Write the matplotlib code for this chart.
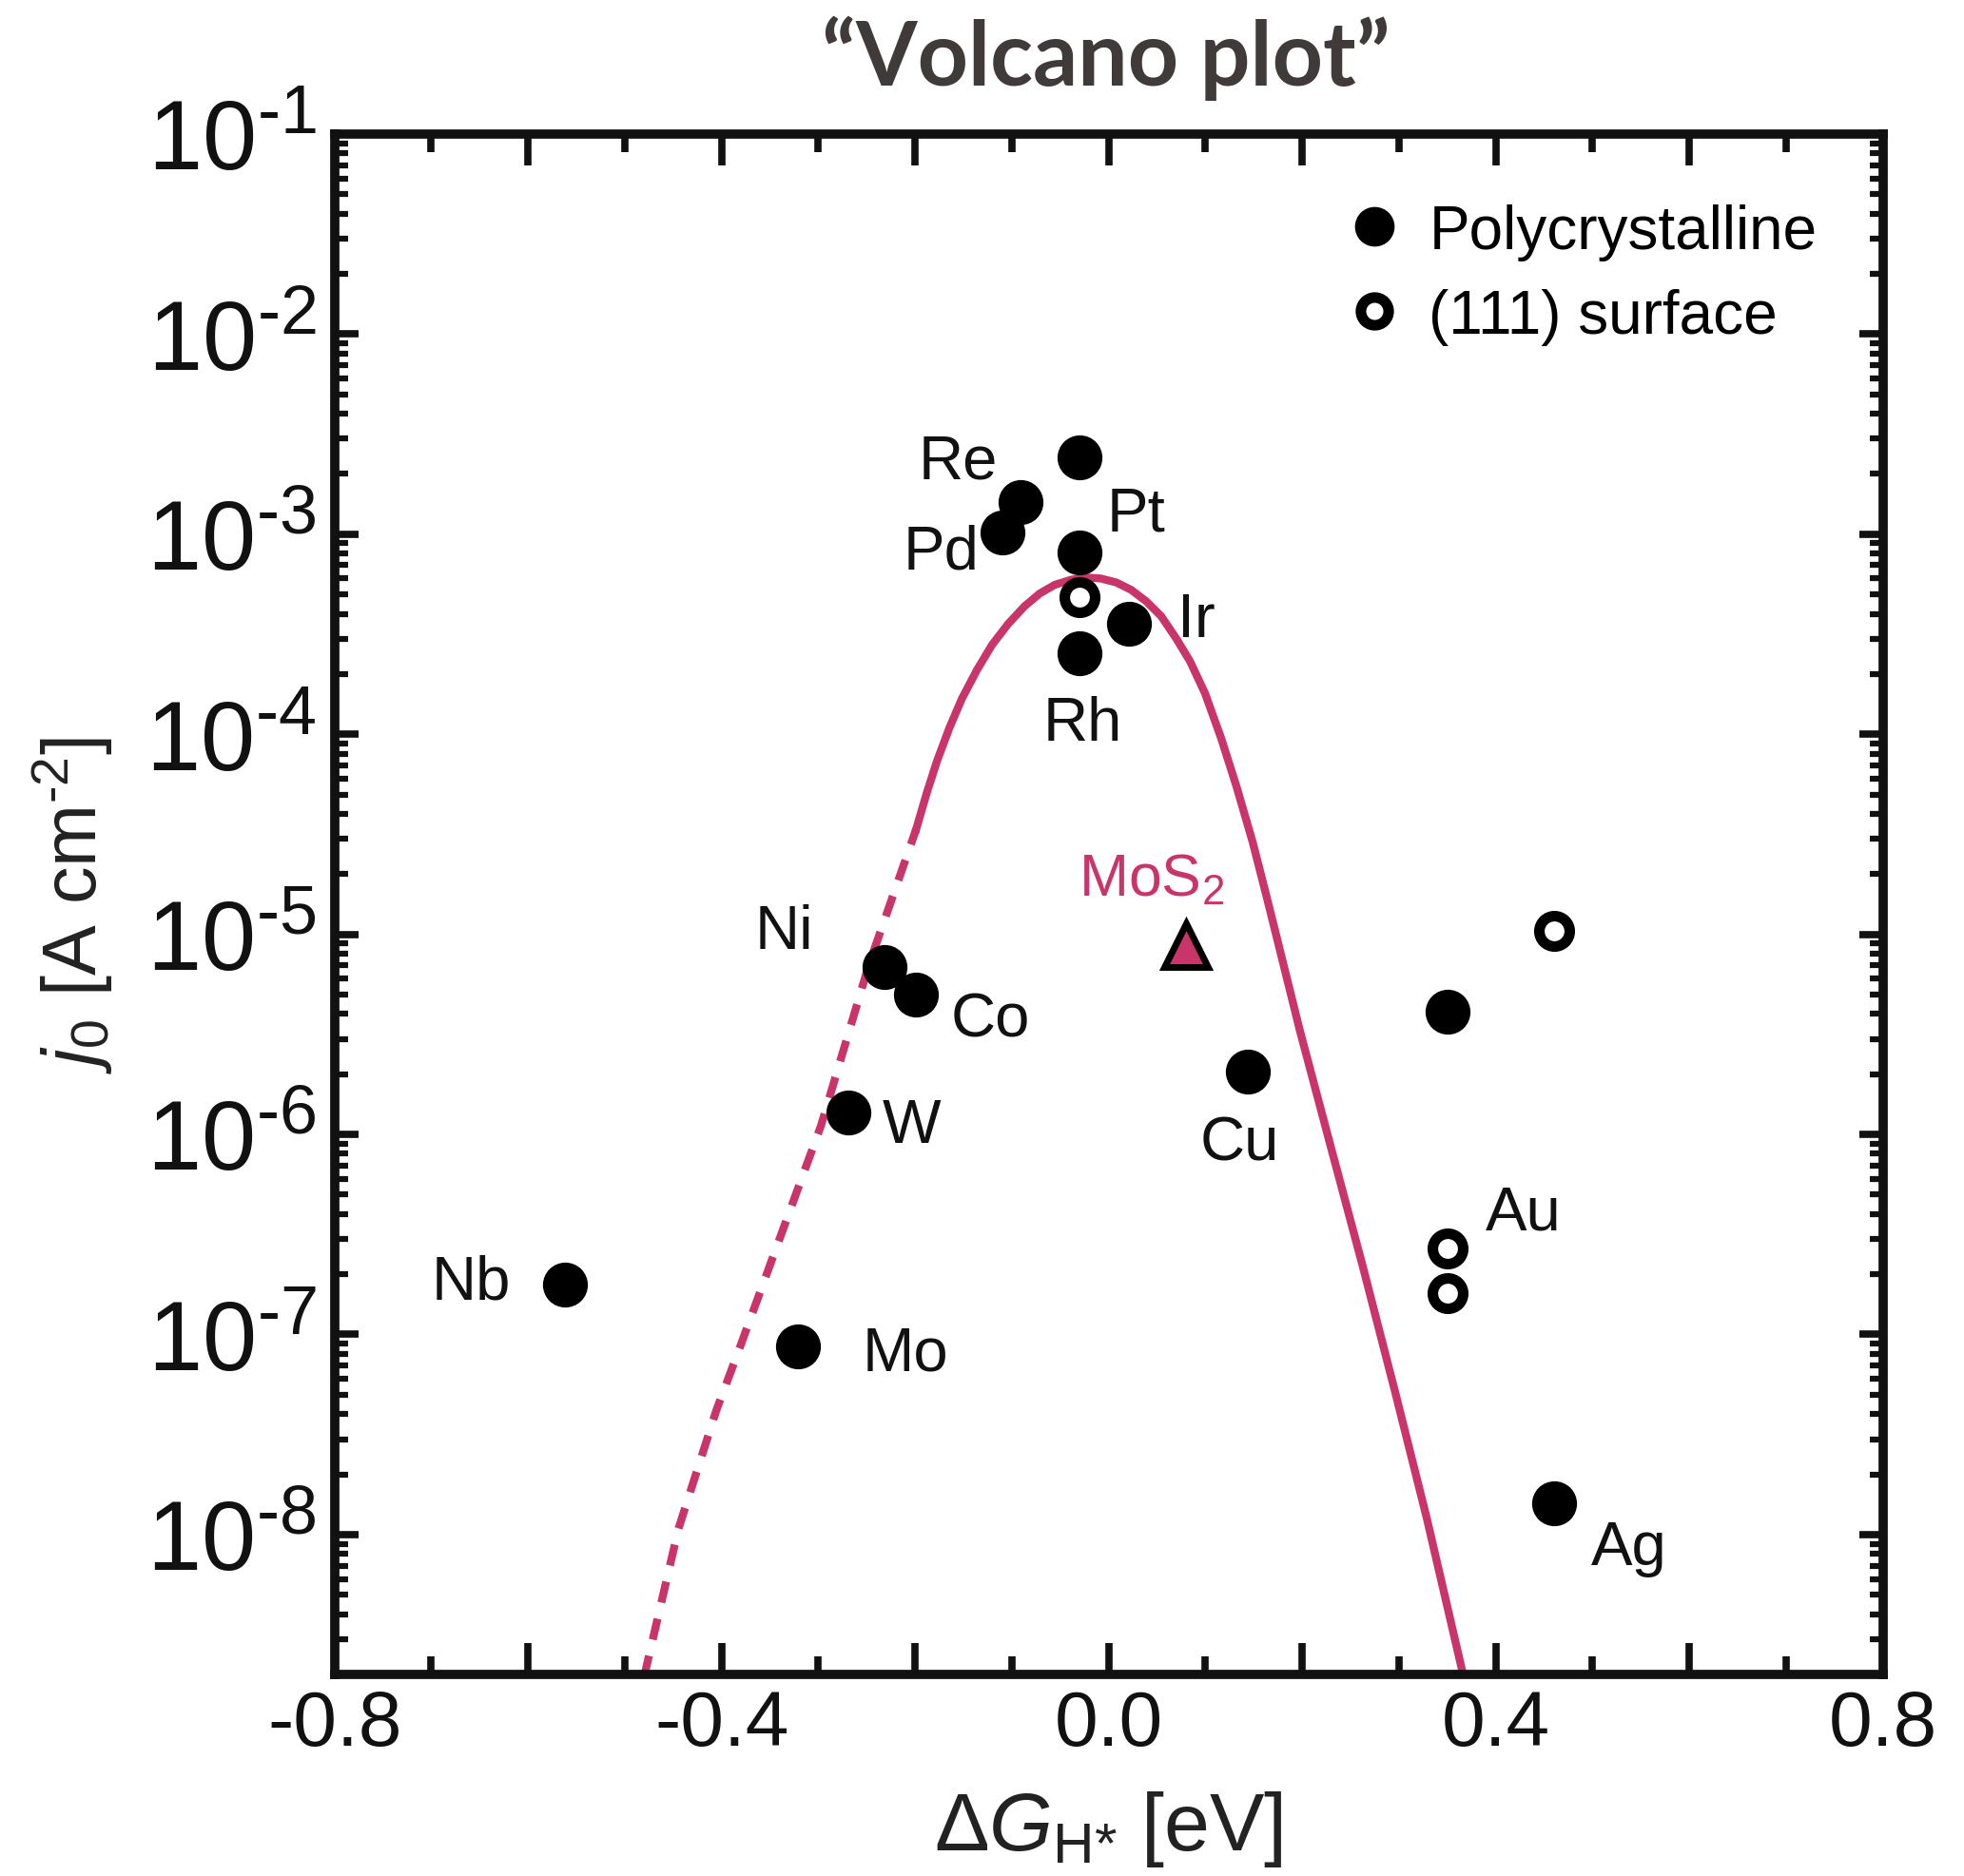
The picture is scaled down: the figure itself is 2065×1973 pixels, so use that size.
import numpy as np
import matplotlib
matplotlib.use('Agg')
import matplotlib.pyplot as plt
import matplotlib.ticker as mtick
from matplotlib.lines import Line2D
from matplotlib import font_manager

plt.rcParams['font.family'] = ['Liberation Sans', 'DejaVu Sans']
plt.rcParams['mathtext.fontset'] = 'custom'
plt.rcParams['mathtext.rm'] = 'Liberation Sans'
plt.rcParams['mathtext.it'] = 'Liberation Sans:italic'
plt.rcParams['mathtext.bf'] = 'Liberation Sans:bold'

# volcano curve: dG_H* [eV] vs j0 [A cm-2]
dash_dg = [-0.480, -0.4445, -0.4052, -0.3823, -0.2971, -0.2479, -0.1987]
dash_j0 = [1.95e-9, 1.07e-8, 4.2e-8, 8.3e-8, 1.11e-6, 7.0e-6, 3.37e-5]
solid_dg = [-0.1987, -0.1877, -0.1773, -0.1644, -0.1515, -0.1359, -0.1204,
            -0.1036, -0.0867, -0.0712, -0.0557, -0.0388, -0.0233, -0.0078,
            0.0078, 0.0233, 0.0388, 0.0544, 0.0699, 0.0841, 0.0997, 0.1165,
            0.1320, 0.1489, 0.1644, 0.1977, 0.2304, 0.2628, 0.2964, 0.3288,
            0.3650]
solid_j0 = [3.37e-5, 5.13e-5, 7.35e-5, 1.08e-4, 1.51e-4, 2.10e-4, 2.80e-4,
            3.57e-4, 4.37e-4, 5.05e-4, 5.58e-4, 5.92e-4, 6.08e-4, 6.00e-4,
            5.74e-4, 5.27e-4, 4.62e-4, 3.89e-4, 3.01e-4, 2.32e-4, 1.60e-4,
            9.5e-5, 5.52e-5, 2.89e-5, 1.47e-5, 3.30e-6, 8.4e-7, 2.18e-7,
            5.1e-8, 1.21e-8, 2.13e-9]

# polycrystalline metals
poly_name = ['Pt', '', 'Rh', 'Ir', 'Re', 'Pd', 'Ni', 'Co', 'W', 'Mo', 'Nb',
             'Cu', '', 'Ag']
poly_dg = [-0.030, -0.030, -0.030, 0.021, -0.091, -0.110, -0.232, -0.199,
           -0.269, -0.321, -0.562, 0.144, 0.350, 0.460]
poly_j0 = [2.42e-3, 8.1e-4, 2.53e-4, 3.57e-4, 1.44e-3, 1.02e-3, 6.85e-6,
           5.0e-6, 1.29e-6, 8.7e-8, 1.78e-7, 2.05e-6, 4.09e-6, 1.44e-8]

# (111) surfaces
s111_name = ['', '', 'Au', '']
s111_dg = [-0.030, 0.460, 0.350, 0.350]
s111_j0 = [4.83e-4, 1.04e-5, 2.70e-7, 1.61e-7]

mos2_dg = [0.080]
mos2_j0 = [8.8e-6]

# label offsets in points (dx, dy) from each point
label_off = {'Pt': (43, -43), 'Rh': (2, -53), 'Ir': (51, 3), 'Re': (-47, 31),
             'Pd': (-46, -15), 'Ni': (-76, 27), 'Co': (56, -19),
             'W': (48, -10), 'Mo': (81, -5), 'Nb': (-71, 2), 'Cu': (-6, -54),
             'Ag': (57, -34), 'Au': (58, 27)}

crimson = '#C9346B'
ink = '#111111'

names = {f.name for f in font_manager.fontManager.ttflist}
if 'Liberation Sans Narrow' in names:
    tick_family, xt_size, yt_size = 'Liberation Sans Narrow', 66, 76
else:
    tick_family, xt_size, yt_size = 'Liberation Sans', 59, 74

fig = plt.figure(figsize=(20.65, 19.74), dpi=100)
ax = fig.add_axes([0.1703, 0.1074, 0.7883, 0.8207])

ax.plot(dash_dg, dash_j0, color=crimson, lw=6, dashes=(2.7, 2.1),
        dash_capstyle='butt')
ax.plot(solid_dg, solid_j0, color=crimson, lw=6, solid_joinstyle='round')

ax.plot(poly_dg, poly_j0, 'o', ms=33, color='black', ls='none')
ax.plot(s111_dg, s111_j0, 'o', ms=23, mfc='white', mec='black', mew=8,
        ls='none')
ax.plot(mos2_dg, mos2_j0, '^', ms=33, mfc=crimson, mec='black', mew=5,
        ls='none')

for name, x, y in list(zip(poly_name, poly_dg, poly_j0)) + \
        list(zip(s111_name, s111_dg, s111_j0)):
    if name:
        ax.annotate(name, (x, y), xytext=label_off[name],
                    textcoords='offset points', ha='center', va='center',
                    fontsize=47, color=ink)
ax.annotate('MoS$_2$', (mos2_dg[0], mos2_j0[0]), xytext=(-26, 50),
            textcoords='offset points', ha='center', va='center',
            fontsize=45, color=crimson)

ax.set_yscale('log')
ax.set_xlim(-0.8, 0.8)
ax.set_ylim(2.0e-9, 1e-1)

ax.xaxis.set_major_locator(mtick.MultipleLocator(0.2))
ax.xaxis.set_minor_locator(mtick.MultipleLocator(0.1))
ax.xaxis.set_major_formatter(mtick.FuncFormatter(
    lambda v, p: ('%.1f' % v).replace('\u2212', '-')
    if abs(round(v / 0.4) * 0.4 - v) < 1e-6 else ''))
ax.yaxis.set_major_locator(mtick.LogLocator(base=10, numticks=20))
ax.yaxis.set_minor_locator(mtick.LogLocator(base=10, subs=np.arange(2, 10),
                                            numticks=20))
ax.yaxis.set_minor_formatter(mtick.NullFormatter())
ax.yaxis.set_major_formatter(mtick.FuncFormatter(
    lambda v, p: r'$\mathregular{10}^{\text{-%d}}$' % round(-np.log10(v))))

ax.tick_params(axis='x', which='major', direction='in', length=24, width=5.5,
               top=True, pad=11, labelsize=xt_size, color=ink)
ax.tick_params(axis='x', which='minor', direction='in', length=14, width=5.5,
               top=True, color=ink)
ax.tick_params(axis='y', which='major', direction='in', length=18, width=5.5,
               right=True, pad=14, labelsize=yt_size, color=ink)
ax.tick_params(axis='y', which='minor', direction='in', length=10, width=4.5,
               right=True, color=ink)
for lab in ax.get_xticklabels() + ax.get_yticklabels():
    lab.set_family(tick_family)
    lab.set_color(ink)

for sp in ax.spines.values():
    sp.set_linewidth(7)
    sp.set_color(ink)

ax.set_xlabel(r'$\Delta G_{\text{H*}}$ [eV]', fontsize=62, color='#222222')
ax.xaxis.set_label_coords(0.5, -0.074)
ax.set_ylabel(r'$j_{\mathregular{0}}$ [A cm$^{\text{-2}}$]', fontsize=57,
              color='#222222')
ax.yaxis.set_label_coords(-0.142, 0.5)

handles = [Line2D([], [], ls='none', marker='o', ms=29, color='black'),
           Line2D([], [], ls='none', marker='o', ms=21, mfc='white',
                  mec='black', mew=8)]
ax.legend(handles, ['Polycrystalline', '(111) surface'], loc='upper left',
          bbox_to_anchor=(0.652, 0.955), frameon=False, fontsize=46,
          handlelength=1.0, handletextpad=0.4, labelspacing=0.45,
          borderpad=0, borderaxespad=0)

fig.text(0.5632, 1 - 90 / 1974, '\u201cVolcano plot\u201d', ha='center',
         va='baseline', fontsize=67, fontweight='bold', family='Lato',
         color='#403b38')

fig.savefig('out.png', dpi=100)
